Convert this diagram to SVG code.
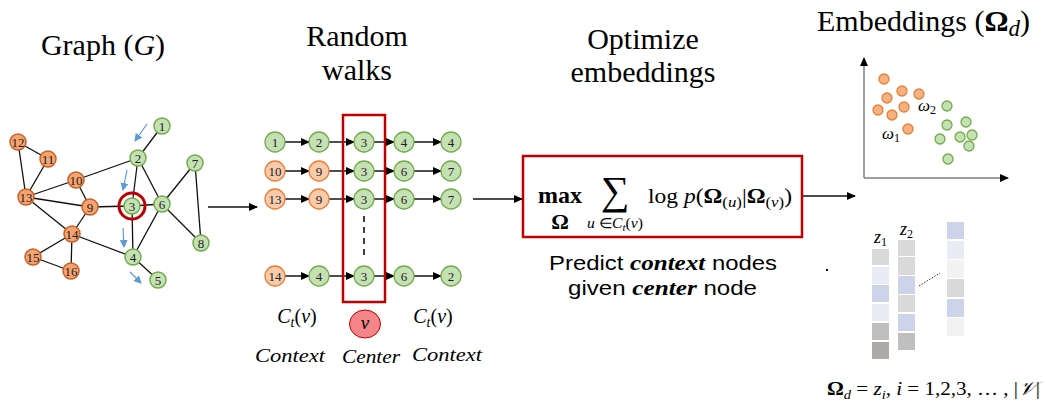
<svg xmlns="http://www.w3.org/2000/svg" width="1046" height="403" viewBox="0 0 1046 403">
<style>
.title{font-family:"Liberation Serif",serif;font-size:30px;fill:#000}
.nt{font-family:"Liberation Serif",serif;font-size:13px;fill:#222;text-anchor:middle;dominant-baseline:central}
.go{fill:#F4A46E;stroke:#C8602A;stroke-width:1.5}
.gg{fill:#C5E0B4;stroke:#70AD47;stroke-width:1.5}
.wo{fill:#F8CBAD;stroke:#ED7D31;stroke-width:1.3}
.wg{fill:#C5E0B4;stroke:#70AD47;stroke-width:1.3}
.edge{stroke:#111;stroke-width:1.3;fill:none}
.warr{stroke:#222;stroke-width:1.6;fill:none;marker-end:url(#ah)}
.barr{stroke:#111;stroke-width:1.6;fill:none;marker-end:url(#ah)}
.blue{stroke:#5B9BD5;stroke-width:1.2;fill:none;marker-end:url(#bh)}
.math{font-family:"Liberation Serif",serif;fill:#000}
.so{fill:#F4B183;stroke:#ED7D31;stroke-width:1.3}
.sg{fill:#C5E0B4;stroke:#70AD47;stroke-width:1.3}
.sans{font-family:"Liberation Sans",Arial,sans-serif;font-size:20px;fill:#000}
.bi{font-family:"Liberation Serif",serif;font-weight:bold;font-style:italic;font-size:21px}
</style>
<defs>
<marker id="ah" markerUnits="userSpaceOnUse" markerWidth="9" markerHeight="8" refX="8" refY="4" orient="auto"><path d="M0,0 L9,4 L0,8 z" fill="#000"/></marker>
<marker id="bh" markerUnits="userSpaceOnUse" markerWidth="8" markerHeight="8" refX="7" refY="4" orient="auto"><path d="M0,0 L8,4 L0,8 z" fill="#5B9BD5"/></marker>
</defs>
<rect width="1046" height="403" fill="#fff"/>

<!-- titles -->
<text class="title" x="103" y="55" text-anchor="middle">Graph (<tspan font-style="italic">G</tspan>)</text>
<text class="title" x="357" y="46" text-anchor="middle">Random</text>
<text class="title" x="357" y="80" text-anchor="middle">walks</text>
<text class="title" x="643" y="49" text-anchor="middle">Optimize</text>
<text class="title" x="643" y="82" text-anchor="middle">embeddings</text>
<text class="title" x="817" y="31" font-size="31">Embeddings (<tspan font-weight="bold">Ω</tspan><tspan font-style="italic" font-size="23" dy="5">d</tspan><tspan dy="-5">)</tspan></text>

<!-- graph connectors -->
<g id="graph-edges">
<line class="edge" x1="162" y1="126" x2="138" y2="158"/>
<line class="edge" x1="138" y1="158" x2="76" y2="180"/>
<line class="edge" x1="138" y1="158" x2="132" y2="206"/>
<line class="edge" x1="138" y1="158" x2="162" y2="204"/>
<line class="edge" x1="132" y1="206" x2="90" y2="207"/>
<line class="edge" x1="132" y1="206" x2="162" y2="204"/>
<line class="edge" x1="132" y1="206" x2="133" y2="257"/>
<line class="edge" x1="162" y1="204" x2="133" y2="257"/>
<line class="edge" x1="162" y1="204" x2="195" y2="163"/>
<line class="edge" x1="162" y1="204" x2="201" y2="243"/>
<line class="edge" x1="195" y1="163" x2="201" y2="243"/>
<line class="edge" x1="133" y1="257" x2="72" y2="234"/>
<line class="edge" x1="133" y1="257" x2="158" y2="280"/>
<line class="edge" x1="18" y1="142" x2="48" y2="159"/>
<line class="edge" x1="18" y1="142" x2="26" y2="197"/>
<line class="edge" x1="48" y1="159" x2="26" y2="197"/>
<line class="edge" x1="26" y1="197" x2="76" y2="180"/>
<line class="edge" x1="26" y1="197" x2="90" y2="207"/>
<line class="edge" x1="26" y1="197" x2="72" y2="234"/>
<line class="edge" x1="76" y1="180" x2="90" y2="207"/>
<line class="edge" x1="90" y1="207" x2="72" y2="234"/>
<line class="edge" x1="72" y1="234" x2="33" y2="257"/>
<line class="edge" x1="72" y1="234" x2="71" y2="271"/>
<line class="edge" x1="33" y1="257" x2="71" y2="271"/>
</g>
<g id="walk-arrows-graph">
<line class="blue" x1="147" y1="124" x2="135" y2="141"/>
<line class="blue" x1="127" y1="170" x2="123" y2="190"/>
<line class="blue" x1="123" y1="228" x2="124" y2="247"/>
<line class="blue" x1="130" y1="272" x2="141" y2="283"/>
</g>

<g id="graph-nodes">
<g id="g1"><circle class="gg" cx="162" cy="126" r="8"/><text class="nt" x="162" y="126">1</text></g>
<g id="g2"><circle class="gg" cx="138" cy="158" r="8"/><text class="nt" x="138" y="158">2</text></g>
<g id="g3"><circle class="gg" cx="132" cy="206" r="8"/><text class="nt" x="132" y="206">3</text><circle cx="132" cy="206" r="13" fill="none" stroke="#C00000" stroke-width="3"/></g>
<g id="g4"><circle class="gg" cx="133" cy="257" r="8"/><text class="nt" x="133" y="257">4</text></g>
<g id="g5"><circle class="gg" cx="158" cy="280" r="8"/><text class="nt" x="158" y="280">5</text></g>
<g id="g6"><circle class="gg" cx="162" cy="204" r="8"/><text class="nt" x="162" y="204">6</text></g>
<g id="g7"><circle class="gg" cx="195" cy="163" r="8"/><text class="nt" x="195" y="163">7</text></g>
<g id="g8"><circle class="gg" cx="201" cy="243" r="8"/><text class="nt" x="201" y="243">8</text></g>
<g id="g9"><circle class="go" cx="90" cy="207" r="8"/><text class="nt" x="90" y="207">9</text></g>
<g id="g10"><circle class="go" cx="76" cy="180" r="8"/><text class="nt" x="76" y="180" font-size="12">10</text></g>
<g id="g11"><circle class="go" cx="48" cy="159" r="8"/><text class="nt" x="48" y="159" font-size="12">11</text></g>
<g id="g12"><circle class="go" cx="18" cy="142" r="8"/><text class="nt" x="18" y="142" font-size="12">12</text></g>
<g id="g13"><circle class="go" cx="26" cy="197" r="8"/><text class="nt" x="26" y="197" font-size="12">13</text></g>
<g id="g14"><circle class="go" cx="72" cy="234" r="8"/><text class="nt" x="72" y="234" font-size="12">14</text></g>
<g id="g15"><circle class="go" cx="33" cy="257" r="8"/><text class="nt" x="33" y="257" font-size="12">15</text></g>
<g id="g16"><circle class="go" cx="71" cy="271" r="8"/><text class="nt" x="71" y="271" font-size="12">16</text></g>
</g>

<!-- main flow connectors and walk connectors -->
<g id="connectors">
<line class="barr" x1="208" y1="207" x2="257" y2="207"/>
<line class="barr" x1="473" y1="199" x2="522" y2="199"/>
<line class="barr" x1="803" y1="196" x2="855" y2="196"/>
<line class="warr" x1="285" y1="142" x2="309" y2="142"/>
<line class="warr" x1="329" y1="142" x2="354" y2="142"/>
<line class="warr" x1="374" y1="142" x2="394" y2="142"/>
<line class="warr" x1="414" y1="142" x2="441" y2="142"/>
<line class="warr" x1="285" y1="171" x2="309" y2="171"/>
<line class="warr" x1="329" y1="171" x2="354" y2="171"/>
<line class="warr" x1="374" y1="171" x2="394" y2="171"/>
<line class="warr" x1="414" y1="171" x2="441" y2="171"/>
<line class="warr" x1="285" y1="199" x2="309" y2="199"/>
<line class="warr" x1="329" y1="199" x2="354" y2="199"/>
<line class="warr" x1="374" y1="199" x2="394" y2="199"/>
<line class="warr" x1="414" y1="199" x2="441" y2="199"/>
<line class="warr" x1="285" y1="276" x2="309" y2="276"/>
<line class="warr" x1="329" y1="276" x2="354" y2="276"/>
<line class="warr" x1="374" y1="276" x2="394" y2="276"/>
<line class="warr" x1="414" y1="276" x2="441" y2="276"/>
<line x1="364" y1="216" x2="364" y2="257" stroke="#111" stroke-width="1.6" stroke-dasharray="6,5"/>
</g>

<!-- random walk nodes -->
<g id="walks">
<g id="w1-1"><circle class="wg" cx="275" cy="142" r="10"/><text class="nt" x="275" y="142">1</text></g>
<g id="w1-2"><circle class="wg" cx="319" cy="142" r="10"/><text class="nt" x="319" y="142">2</text></g>
<g id="w1-3"><circle class="wg" cx="364" cy="142" r="10"/><text class="nt" x="364" y="142">3</text></g>
<g id="w1-4"><circle class="wg" cx="404" cy="142" r="10"/><text class="nt" x="404" y="142">4</text></g>
<g id="w1-5"><circle class="wg" cx="451" cy="142" r="10"/><text class="nt" x="451" y="142">4</text></g>
<g id="w2-1"><circle class="wo" cx="275" cy="171" r="10"/><text class="nt" x="275" y="171" font-size="12">10</text></g>
<g id="w2-2"><circle class="wo" cx="319" cy="171" r="10"/><text class="nt" x="319" y="171">9</text></g>
<g id="w2-3"><circle class="wg" cx="364" cy="171" r="10"/><text class="nt" x="364" y="171">3</text></g>
<g id="w2-4"><circle class="wg" cx="404" cy="171" r="10"/><text class="nt" x="404" y="171">6</text></g>
<g id="w2-5"><circle class="wg" cx="451" cy="171" r="10"/><text class="nt" x="451" y="171">7</text></g>
<g id="w3-1"><circle class="wo" cx="275" cy="199" r="10"/><text class="nt" x="275" y="199" font-size="12">13</text></g>
<g id="w3-2"><circle class="wo" cx="319" cy="199" r="10"/><text class="nt" x="319" y="199">9</text></g>
<g id="w3-3"><circle class="wg" cx="364" cy="199" r="10"/><text class="nt" x="364" y="199">3</text></g>
<g id="w3-4"><circle class="wg" cx="404" cy="199" r="10"/><text class="nt" x="404" y="199">6</text></g>
<g id="w3-5"><circle class="wg" cx="451" cy="199" r="10"/><text class="nt" x="451" y="199">7</text></g>
<g id="w4-1"><circle class="wo" cx="275" cy="276" r="10"/><text class="nt" x="275" y="276" font-size="12">14</text></g>
<g id="w4-2"><circle class="wg" cx="319" cy="276" r="10"/><text class="nt" x="319" y="276">4</text></g>
<g id="w4-3"><circle class="wg" cx="364" cy="276" r="10"/><text class="nt" x="364" y="276">3</text></g>
<g id="w4-4"><circle class="wg" cx="404" cy="276" r="10"/><text class="nt" x="404" y="276">6</text></g>
<g id="w4-5"><circle class="wg" cx="451" cy="276" r="10"/><text class="nt" x="451" y="276">2</text></g>
</g>
<g id="center-box"><rect x="343" y="115" width="42" height="187" fill="none" stroke="#C00000" stroke-width="2.5"/></g>

<!-- labels under walks -->
<g id="walk-labels">
<text class="math" x="297" y="323" font-size="20" text-anchor="middle"><tspan font-style="italic">C</tspan><tspan font-style="italic" font-size="14" dy="4">t</tspan><tspan dy="-4">(</tspan><tspan font-style="italic">v</tspan>)</text>
<text class="math" x="433" y="323" font-size="20" text-anchor="middle"><tspan font-style="italic">C</tspan><tspan font-style="italic" font-size="14" dy="4">t</tspan><tspan dy="-4">(</tspan><tspan font-style="italic">v</tspan>)</text>
<g id="center-v"><ellipse cx="365" cy="324" rx="15.5" ry="14" fill="#F4868A" stroke="#C00000" stroke-width="1"/><text class="math" x="365" y="329" font-size="19" font-style="italic" text-anchor="middle">v</text></g>
<text class="math" x="255" y="362" font-size="19" font-style="italic" textLength="70" lengthAdjust="spacingAndGlyphs">Context</text>
<text class="math" x="342" y="363" font-size="19" font-style="italic" textLength="58" lengthAdjust="spacingAndGlyphs">Center</text>
<text class="math" x="412" y="361" font-size="19" font-style="italic" textLength="70" lengthAdjust="spacingAndGlyphs">Context</text>
</g>

<!-- objective box -->
<g id="objective">
<rect x="523" y="156" width="279" height="81" fill="#fff" stroke="#C00000" stroke-width="2.5"/>
<text class="math" x="560" y="203" font-size="24" font-weight="bold" text-anchor="middle">max</text>
<text class="math" x="560" y="229" font-size="22" font-weight="bold" text-anchor="middle">Ω</text>
<text class="math" x="615" y="204" font-size="40" text-anchor="middle">∑</text>
<text class="math" x="587" y="228" font-size="14" textLength="56" lengthAdjust="spacingAndGlyphs"><tspan font-style="italic">u</tspan> ∈<tspan font-style="italic">C</tspan><tspan font-style="italic" font-size="10" dy="3">t</tspan><tspan dy="-3">(</tspan><tspan font-style="italic">v</tspan>)</text>
<text class="math" x="648" y="203" font-size="21" textLength="144" lengthAdjust="spacingAndGlyphs">log <tspan font-style="italic">p</tspan>(<tspan font-weight="bold">Ω</tspan><tspan font-size="15" dy="4">(<tspan font-style="italic">u</tspan>)</tspan><tspan dy="-4">|</tspan><tspan font-weight="bold">Ω</tspan><tspan font-size="15" dy="4">(<tspan font-style="italic">v</tspan>)</tspan><tspan dy="-4">)</tspan></text>
</g>
<g id="caption">
<text class="sans" x="549" y="270" textLength="228" lengthAdjust="spacingAndGlyphs">Predict <tspan class="bi">context</tspan> nodes</text>
<text class="sans" x="568" y="295" textLength="189" lengthAdjust="spacingAndGlyphs">given <tspan class="bi">center</tspan> node</text>
</g>
<rect x="826" y="269" width="2" height="2" fill="#000"/>

<!-- scatter plot -->
<g id="scatter">
<line x1="864" y1="178" x2="864" y2="58" stroke="#7F7F7F" stroke-width="1.5" marker-end="url(#ah)"/>
<line x1="864" y1="178" x2="1008" y2="178" stroke="#7F7F7F" stroke-width="1.5" marker-end="url(#ah)"/>
<circle class="so" cx="884" cy="79" r="5"/>
<circle class="so" cx="902" cy="91" r="5"/>
<circle class="so" cx="919" cy="94" r="5"/>
<circle class="so" cx="887" cy="98" r="5"/>
<circle class="so" cx="904" cy="107" r="5"/>
<circle class="so" cx="878" cy="110" r="5"/>
<circle class="so" cx="892" cy="115" r="5"/>
<circle class="so" cx="908" cy="129" r="5"/>
<circle class="sg" cx="947" cy="106" r="5"/>
<circle class="sg" cx="947" cy="125" r="5"/>
<circle class="sg" cx="966" cy="122" r="5"/>
<circle class="sg" cx="940" cy="139" r="5"/>
<circle class="sg" cx="960" cy="137" r="5"/>
<circle class="sg" cx="972" cy="135" r="5"/>
<circle class="sg" cx="969" cy="146" r="5"/>
<circle class="sg" cx="948" cy="159" r="5"/>
<text class="math" x="882" y="139" font-size="17" font-style="italic">ω<tspan font-style="normal" font-size="12" dy="3">1</tspan></text>
<text class="math" x="918" y="111" font-size="17" font-style="italic">ω<tspan font-style="normal" font-size="12" dy="3">2</tspan></text>
</g>

<!-- embedding vectors -->
<g id="vectors">
<text class="math" x="874" y="243" font-size="18" font-style="italic">z<tspan font-style="normal" font-size="12" dy="3">1</tspan></text>
<text class="math" x="900" y="235" font-size="18" font-style="italic">z<tspan font-style="normal" font-size="12" dy="3">2</tspan></text>
<g id="z1">
<rect x="872" y="249" width="17" height="16" fill="#D9D9D9"/>
<rect x="872" y="267" width="17" height="17" fill="#E9EBF5"/>
<rect x="872" y="285" width="17" height="17" fill="#CDD3EA"/>
<rect x="872" y="304" width="17" height="17" fill="#E9EBF5"/>
<rect x="872" y="323" width="17" height="17" fill="#BFBFBF"/>
<rect x="872" y="342" width="17" height="17" fill="#AEAAAA"/>
</g>
<g id="z2">
<rect x="898" y="240" width="17" height="16" fill="#D9D9D9"/>
<rect x="898" y="257" width="17" height="18" fill="#D9D9D9"/>
<rect x="898" y="276" width="17" height="18" fill="#CDD3EA"/>
<rect x="898" y="295" width="17" height="17" fill="#D9D9D9"/>
<rect x="898" y="314" width="17" height="17" fill="#CDD3EA"/>
<rect x="898" y="333" width="17" height="17" fill="#BFBFBF"/>
</g>
<g id="zn">
<rect x="947" y="222" width="17" height="17" fill="#CDD3EA"/>
<rect x="947" y="241" width="17" height="18" fill="#E9EBF5"/>
<rect x="947" y="260" width="17" height="18" fill="#F2F2F2"/>
<rect x="947" y="279" width="17" height="18" fill="#D9D9D9"/>
<rect x="947" y="299" width="17" height="18" fill="#CDD3EA"/>
<rect x="947" y="318" width="17" height="18" fill="#F2F2F2"/>
</g>
<line x1="919" y1="286" x2="940" y2="273" stroke="#333" stroke-width="1" stroke-dasharray="1.5,1.5"/>
<text class="math" x="827" y="395" font-size="19" textLength="213" lengthAdjust="spacingAndGlyphs"><tspan font-weight="bold">Ω</tspan><tspan font-style="italic" font-size="13" dy="4">d</tspan><tspan dy="-4"> =  </tspan><tspan font-style="italic">z</tspan><tspan font-style="italic" font-size="13" dy="4">i</tspan><tspan dy="-4">, </tspan><tspan font-style="italic">i</tspan> = 1,2,3, … , |<tspan font-style="italic">𝒱</tspan>|</text>
</g>
</svg>
